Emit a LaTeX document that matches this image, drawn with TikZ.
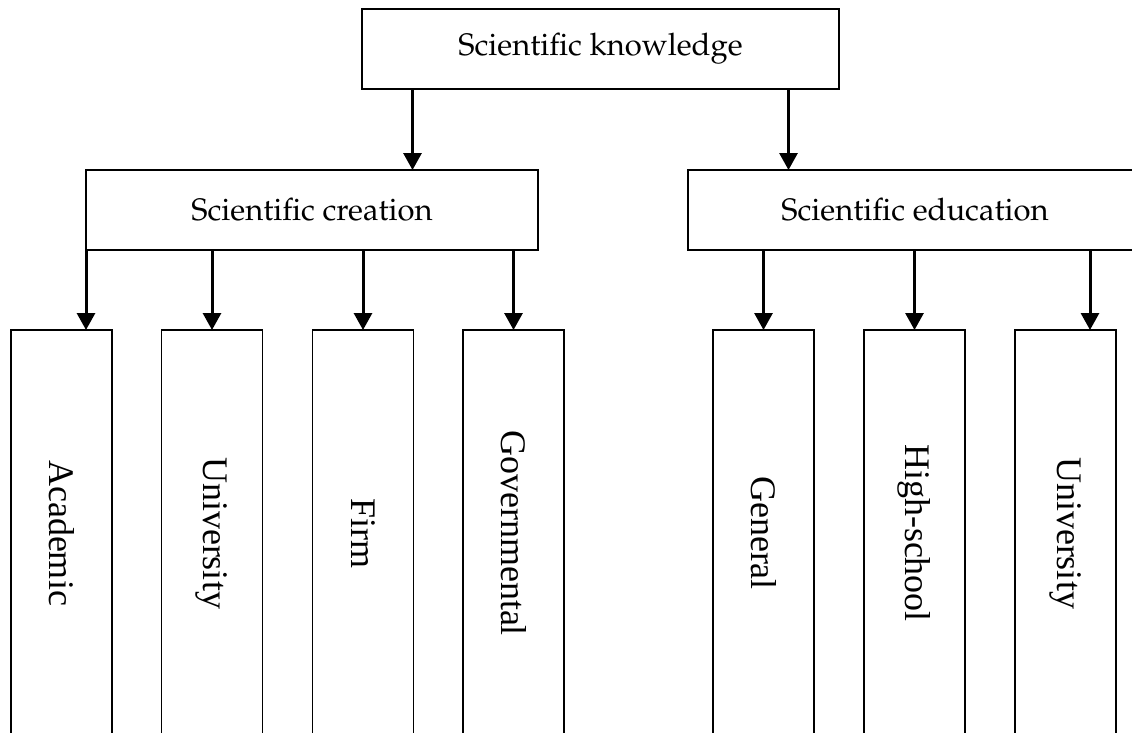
\documentclass[tikz,border=0pt]{standalone}
\usepackage[T1]{fontenc}
\usepackage{fontspec}
\newfontfamily\timesfont{Liberation Serif}
\newcommand{\palfont}{\fontencoding{T1}\fontfamily{ppl}\selectfont}
\usetikzlibrary{arrows.meta}
\tikzset{
  box/.style={draw=black, line width=1.8pt, rectangle, inner sep=0pt, outer sep=0pt, fill=white},
  headbox/.style={box, minimum width=#1, minimum height=80pt, font=\palfont\fontsize{31}{37}\selectfont},
  leafbox/.style={box, rotate=-90, minimum width=406pt, minimum height=101pt, font=\timesfont\fontsize{36}{42}\selectfont},
  arr/.style={line width=3pt, -{Triangle[width=18pt,length=17pt]}, shorten >=0pt}
}
\begin{document}
\begin{tikzpicture}[x=1pt,y=1pt]
\useasboundingbox (0,0) rectangle (1132,-732);
\clip (0,0) rectangle (1132,-732);
\fill[white] (0,0) rectangle (1132,-732);
% top box
\node[headbox=477pt] (know) at (600.5,-49) {Scientific knowledge};
\node[headbox=452pt] (crea) at (312,-210) {Scientific creation};
\node[headbox=454pt] (edu) at (915,-210) {Scientific education};
% leaf boxes
\node[leafbox] (acad) at (61.5,-533) {Academic};
\node[leafbox] (univa) at (212,-533) {University};
\node[leafbox] (firm) at (363,-533) {Firm};
\node[leafbox] (gov) at (513.5,-533) {Governmental};
\node[leafbox] (gen) at (763.5,-533) {General};
\node[leafbox] (high) at (914.5,-533) {High-school};
\node[leafbox] (univb) at (1065.5,-533) {University};
% arrows from top
\draw[arr] ([xshift=-188pt]know.south) -- ([xshift=-188pt]know.south |- crea.north);
\draw[arr] ([xshift=188pt]know.south) -- ([xshift=188pt]know.south |- edu.north);
% arrows from creation
\draw[arr] (crea.south west) -- (crea.south west |- acad.west);
\draw[arr] (crea.south -| univa.west) -- (univa.west);
\draw[arr] (crea.south -| firm.west) -- (firm.west);
\draw[arr] (crea.south -| gov.west) -- (gov.west);
% arrows from education
\draw[arr] (edu.south -| gen.west) -- (gen.west);
\draw[arr] (edu.south -| high.west) -- (high.west);
\draw[arr] ([xshift=24.5pt]edu.south -| univb.west) -- ([xshift=24.5pt]univb.west);
\end{tikzpicture}
\end{document}
